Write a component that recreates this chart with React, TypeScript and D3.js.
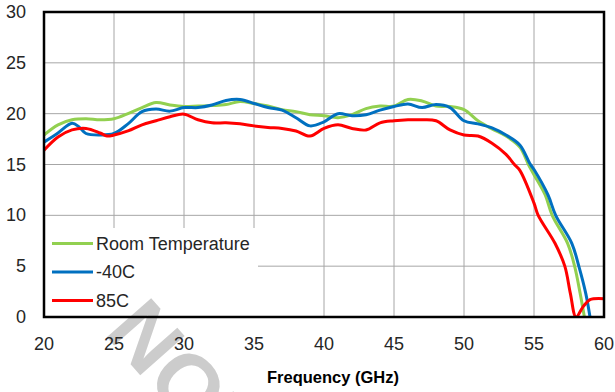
import React, { useEffect, useRef } from 'react';
import * as d3 from 'd3';

const roomFreq = [20, 21, 22, 23, 24, 25, 26, 27, 28, 29, 30, 31, 32, 33, 34, 35, 36, 37, 38, 39, 40, 41, 42, 43, 44, 45, 46, 47, 48, 49, 50, 51, 52, 53, 54, 54.6, 55, 55.8, 56.3, 57.4, 57.9, 58.3, 58.6];
const roomGain = [17.9, 18.9, 19.4, 19.5, 19.4, 19.5, 20.0, 20.6, 21.1, 20.85, 20.7, 20.75, 20.8, 20.9, 21.2, 21.0, 20.75, 20.4, 20.2, 19.9, 19.8, 19.6, 19.9, 20.5, 20.75, 20.75, 21.4, 21.25, 20.75, 20.7, 20.4, 19.3, 18.5, 17.8, 16.7, 15.0, 14.0, 12.0, 10.0, 7.25, 5.0, 2.3, 0];

const coldFreq = [20, 21, 22, 22.5, 23, 24, 25, 26, 27, 28, 29, 30, 31, 32, 33, 34, 35, 36, 37, 38, 39, 40, 41, 42, 43, 44, 45, 46, 47, 48, 49, 50, 51, 52, 53, 54, 54.7, 55, 56, 56.55, 57.7, 58.2, 58.7, 59.0];
const coldGain = [17.2, 18.1, 19.05, 18.7, 18.05, 17.9, 18.05, 19.0, 20.2, 20.45, 20.25, 20.6, 20.6, 20.85, 21.3, 21.4, 21.0, 20.6, 20.35, 19.6, 18.8, 19.2, 20.0, 19.8, 19.9, 20.35, 20.7, 20.95, 20.6, 20.9, 20.6, 19.3, 19.0, 18.6, 17.9, 16.9, 15.1, 14.5, 12.0, 10.0, 7.25, 5.0, 2.3, 0];

const hotFreq = [20, 21, 22, 23, 24, 24.5, 25, 26, 27, 28, 29, 30, 31, 32, 33, 34, 35, 36, 37, 38, 39, 40, 41, 42, 43, 44, 45, 46, 47, 48, 49, 50, 51, 52, 53, 53.6, 54, 55, 55.3, 56.5, 57.2, 57.6, 58, 58.5, 59, 60];
const hotGain = [16.4, 17.7, 18.4, 18.55, 18.1, 17.8, 17.9, 18.3, 18.9, 19.3, 19.7, 19.95, 19.4, 19.1, 19.1, 19.0, 18.8, 18.65, 18.55, 18.3, 17.8, 18.55, 18.9, 18.55, 18.4, 19.1, 19.3, 19.4, 19.4, 19.3, 18.4, 17.9, 17.8, 17.1, 16.0, 15.0, 14.4, 11.2, 10.0, 7.25, 5.0, 2.3, 0, 1.0, 1.7, 1.8];

const seriesNames = ['Room Temperature', '-40C', '85C'];
const seriesColors = ['#92d050', '#0070c0', '#ff0000'];
const xTicks = [20, 25, 30, 35, 40, 45, 50, 55, 60];
const yTicks = [0, 5, 10, 15, 20, 25, 30];

const W = 615;
const H = 392;

const App = () => {
  const svgRef = useRef(null);

  useEffect(() => {
    const svg = d3.select(svgRef.current);
    svg.selectAll('*').remove();

    const left = 44, right = 604, top = 12, bottom = 317;
    const font = '"Liberation Sans", Arial, sans-serif';

    const x = d3.scaleLinear().domain([20, 60]).range([left, right]);
    const y = d3.scaleLinear().domain([0, 30]).range([bottom, top]);

    svg.append('rect').attr('width', W).attr('height', H).attr('fill', '#fff');

    // grid
    svg.append('g')
      .selectAll('line')
      .data(xTicks.slice(1, -1))
      .join('line')
      .attr('x1', (d) => x(d)).attr('x2', (d) => x(d))
      .attr('y1', top).attr('y2', bottom)
      .attr('stroke', '#a6a6a6').attr('stroke-width', 1);
    svg.append('g')
      .selectAll('line')
      .data(yTicks.slice(1, -1))
      .join('line')
      .attr('x1', left).attr('x2', right)
      .attr('y1', (d) => y(d)).attr('y2', (d) => y(d))
      .attr('stroke', '#a6a6a6').attr('stroke-width', 1);

    svg.append('clipPath').attr('id', 'plotClip')
      .append('rect')
      .attr('x', left).attr('y', top)
      .attr('width', right - left).attr('height', bottom - top);

    const series = [
      { f: roomFreq, g: roomGain },
      { f: coldFreq, g: coldGain },
      { f: hotFreq, g: hotGain },
    ];

    const line = d3.line()
      .x((d) => x(d[0]))
      .y((d) => y(d[1]))
      .curve(d3.curveCatmullRom.alpha(0.5));

    const plot = svg.append('g').attr('clip-path', 'url(#plotClip)');
    series.forEach((s, i) => {
      plot.append('path')
        .datum(s.f.map((f, j) => [f, s.g[j]]))
        .attr('d', line)
        .attr('fill', 'none')
        .attr('stroke', seriesColors[i])
        .attr('stroke-width', 3)
        .attr('stroke-linejoin', 'round');
    });

    // legend
    svg.append('rect')
      .attr('x', left).attr('y', 228)
      .attr('width', 214).attr('height', bottom - 228)
      .attr('fill', '#fff');
    const legendY = [243.5, 272, 300.5];
    const lg = svg.append('g');
    seriesNames.forEach((name, i) => {
      lg.append('line')
        .attr('x1', 52).attr('x2', 93)
        .attr('y1', legendY[i]).attr('y2', legendY[i])
        .attr('stroke', seriesColors[i]).attr('stroke-width', 3);
      lg.append('text')
        .attr('x', 96).attr('y', legendY[i])
        .attr('dominant-baseline', 'central')
        .attr('font-family', font).attr('font-size', 18)
        .attr('fill', '#262626')
        .text(name);
    });

    // watermark (runs off the bottom edge, as in the original)
    svg.append('text')
      .attr('transform', 'translate(103,333) rotate(48.6)')
      .attr('font-family', font).attr('font-size', 86).attr('font-weight', 'bold')
      .attr('fill', '#cccccc')
      .text('NOT');

    // border
    svg.append('rect')
      .attr('x', left).attr('y', top)
      .attr('width', right - left).attr('height', bottom - top)
      .attr('fill', 'none').attr('stroke', '#000').attr('stroke-width', 2.5);

    // ticks
    svg.append('g')
      .selectAll('text')
      .data(yTicks)
      .join('text')
      .attr('x', 26).attr('y', (d) => y(d))
      .attr('text-anchor', 'end').attr('dominant-baseline', 'central')
      .attr('font-family', font).attr('font-size', 18).attr('fill', '#262626')
      .text((d) => d);
    svg.append('g')
      .selectAll('text')
      .data(xTicks)
      .join('text')
      .attr('x', (d) => x(d)).attr('y', 350)
      .attr('text-anchor', 'middle')
      .attr('font-family', font).attr('font-size', 18).attr('fill', '#262626')
      .text((d) => d);

    svg.append('text')
      .attr('x', 333).attr('y', 383)
      .attr('text-anchor', 'middle')
      .attr('font-family', font).attr('font-size', 16.5).attr('font-weight', 'bold')
      .attr('fill', '#000')
      .text('Frequency (GHz)');
  }, []);

  return (
    <svg
      ref={svgRef}
      width={W}
      height={H}
      style={{ position: 'absolute', left: 0, top: 0 }}
    />
  );
};

export default App;
